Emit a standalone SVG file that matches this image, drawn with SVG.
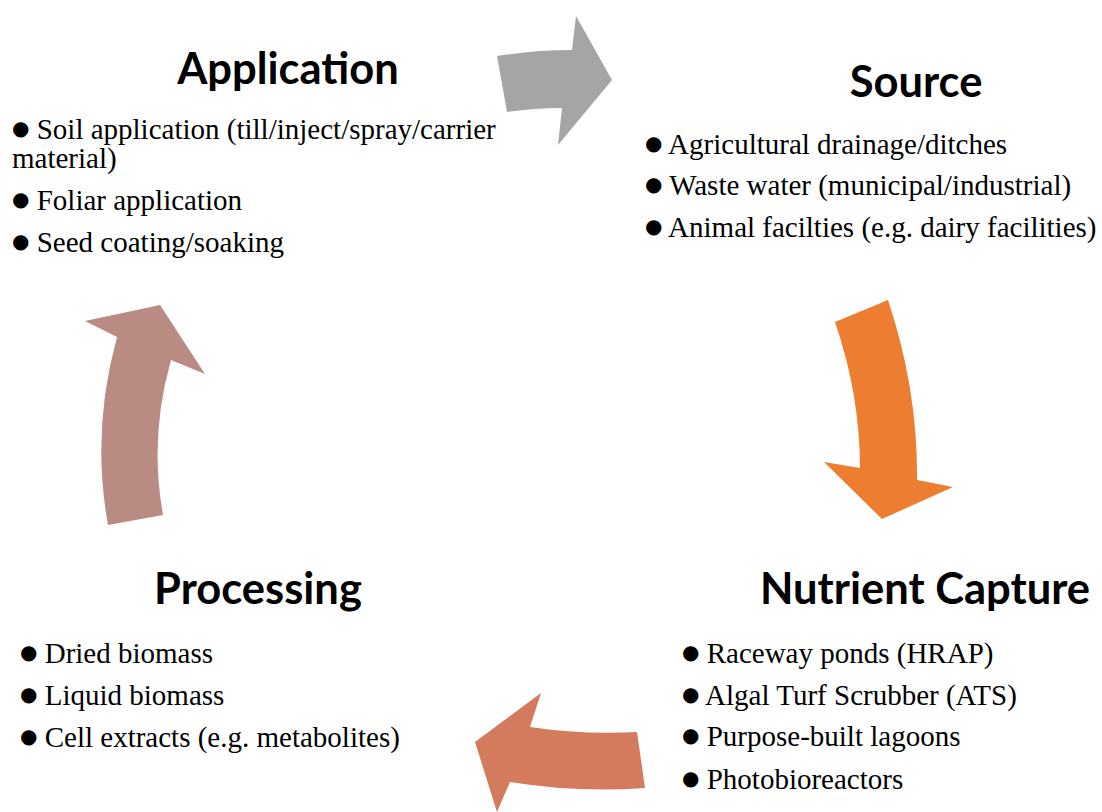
<svg xmlns="http://www.w3.org/2000/svg" width="1102" height="812" viewBox="0 0 1102 812">
<style>
.title{font-family:"Lato","Liberation Sans",sans-serif;font-weight:bold;font-size:43.5px;fill:#000;text-anchor:middle}
.item{font-family:"Liberation Serif","Times New Roman",serif;font-size:29px;fill:#000}
.b{font-family:"DejaVu Sans",sans-serif;font-size:20px;baseline-shift:4px}
</style>
<rect width="1102" height="812" fill="#fff"/>
<g id="connectors">
<path id="arrow-app-src" fill="#A5A5A5" d="M497,56 Q535,50 572,50 L576,16 L612,80 L558,145 L562,108 Q534,108 507,112 Z"/>
<path id="arrow-src-cap" fill="#ED7D31" d="M835,322 L888,300 Q918,390 917,480 L953,487 L882,519 L824,462 L860,468 Q860,395 835,322 Z"/>
<path id="arrow-cap-proc" fill="#D37B5C" d="M637,732 L645,788 Q578,793 510,782 L497,812 L475,742 L541,693 L530,727 Q583,735 637,732 Z"/>
<path id="arrow-proc-app" fill="#B98B82" d="M108,525 Q91,431 117,337 L85,321 L160,305 L205,374 L171,360 Q149,437 163,515 Z"/>
</g>
<g id="node-application">
<text class="title" x="288" y="84">Application</text>
<text class="item" x="12" y="139"><tspan class="b">●</tspan> Soil application (till/inject/spray/carrier</text>
<text class="item" x="12" y="168">material)</text>
<text class="item" x="12" y="210"><tspan class="b">●</tspan> Foliar application</text>
<text class="item" x="12" y="252"><tspan class="b">●</tspan> Seed coating/soaking</text>
</g>
<g id="node-source">
<text class="title" x="916" y="97">Source</text>
<text class="item" x="645" y="154"><tspan class="b">●</tspan> Agricultural drainage/ditches</text>
<text class="item" x="645" y="195"><tspan class="b">●</tspan> Waste water (municipal/industrial)</text>
<text class="item" x="645" y="237"><tspan class="b">●</tspan> Animal facilties (e.g. dairy facilities)</text>
</g>
<g id="node-capture">
<text class="title" x="925" y="604">Nutrient Capture</text>
<text class="item" x="682" y="663"><tspan class="b">●</tspan> Raceway ponds (HRAP)</text>
<text class="item" x="682" y="705"><tspan class="b">●</tspan> Algal Turf Scrubber (ATS)</text>
<text class="item" x="682" y="746"><tspan class="b">●</tspan> Purpose-built lagoons</text>
<text class="item" x="682" y="789"><tspan class="b">●</tspan> Photobioreactors</text>
</g>
<g id="node-processing">
<text class="title" x="258" y="604">Processing</text>
<text class="item" x="20" y="663"><tspan class="b">●</tspan> Dried biomass</text>
<text class="item" x="20" y="705"><tspan class="b">●</tspan> Liquid biomass</text>
<text class="item" x="20" y="747"><tspan class="b">●</tspan> Cell extracts (e.g. metabolites)</text>
</g>
</svg>
